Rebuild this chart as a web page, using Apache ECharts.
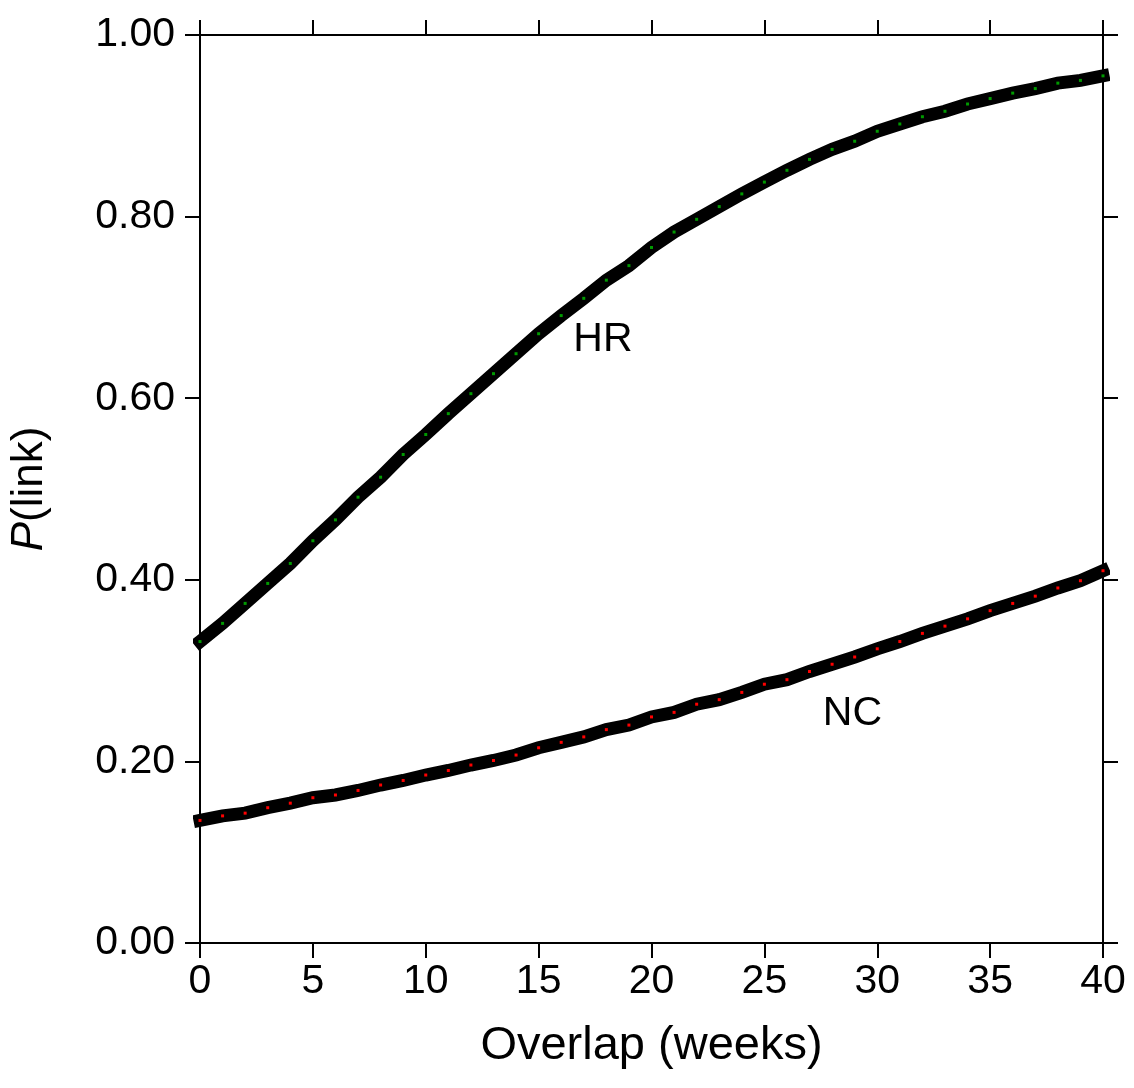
<!DOCTYPE html>
<html>
<head>
<meta charset="utf-8">
<script src="https://cdn.jsdelivr.net/npm/echarts@6/dist/echarts.min.js"></script>
<style>html,body{margin:0;padding:0;background:#fff}#c{width:1134px;height:1088px}</style>
</head>
<body>
<div id="c"></div>
<script>
const weeks = Array.from({length: 41}, (_, i) => i);
const hrValues = [0.332,0.352,0.374,0.396,0.418,0.443,0.466,0.491,0.513,0.538,0.560,0.583,0.605,0.627,0.649,0.671,0.691,0.710,0.730,0.746,0.766,0.783,0.797,0.811,0.825,0.838,0.851,0.863,0.874,0.883,0.894,0.902,0.910,0.916,0.924,0.930,0.936,0.941,0.947,0.950,0.955];
const ncValues = [0.135,0.140,0.143,0.149,0.154,0.160,0.163,0.168,0.174,0.179,0.185,0.190,0.196,0.201,0.207,0.215,0.221,0.227,0.235,0.240,0.249,0.254,0.263,0.268,0.276,0.285,0.290,0.299,0.307,0.315,0.324,0.332,0.341,0.349,0.357,0.366,0.374,0.382,0.391,0.399,0.410];
const xTicks = [0,5,10,15,20,25,30,35,40];
const yTicks = [0,0.2,0.4,0.6,0.8,1.0];
const hrLabel = {text: 'HR', x: 17.85, y: 0.664};
const ncLabel = {text: 'NC', x: 28.9, y: 0.253};

const FONT = 'Liberation Sans, Arial, Helvetica, sans-serif';
const chart = echarts.init(document.getElementById('c'), null, {renderer: 'canvas'});
const axisLine = {show: true, onZero: false, lineStyle: {color: '#000', width: 2}};
const axisTick = {show: true, inside: false, length: 15, lineStyle: {color: '#000', width: 2}};

function labelPoint(l) {
  return {
    coord: [l.x, l.y], symbol: 'circle', symbolSize: 0,
    itemStyle: {color: 'rgba(0,0,0,0)'},
    label: {show: true, position: 'inside', formatter: l.text, color: '#000', fontSize: 41, fontFamily: FONT}
  };
}

chart.setOption({
  animation: false,
  backgroundColor: '#fff',
  grid: {left: 200, right: 31, top: 35, bottom: 145, containLabel: false},
  xAxis: [{
    type: 'value', position: 'bottom', min: xTicks[0], max: xTicks[xTicks.length-1], interval: 5,
    axisLine, axisTick, splitLine: {show: false},
    axisLabel: {show: true, margin: 18, color: '#000', fontSize: 41, fontFamily: FONT},
    name: 'Overlap (weeks)', nameLocation: 'middle', nameGap: 80,
    nameTextStyle: {color: '#000', fontSize: 47, fontFamily: FONT}
  }, {
    type: 'value', position: 'top', min: 0, max: 40, interval: 5,
    axisLine, axisTick, splitLine: {show: false}, axisLabel: {show: false}
  }],
  yAxis: [{
    type: 'value', position: 'left', min: yTicks[0], max: yTicks[yTicks.length-1], interval: 0.2,
    axisLine, axisTick, splitLine: {show: false},
    axisLabel: {show: true, margin: 25, color: '#000', fontSize: 41, fontFamily: FONT, formatter: v => v.toFixed(2)},
    name: '{i|P}(link)', nameLocation: 'middle', nameGap: 148, nameRotate: 90,
    nameTextStyle: {color: '#000', fontSize: 44, fontFamily: FONT,
      rich: {i: {fontStyle: 'italic', fontSize: 44, fontFamily: FONT, color: '#000'}}}
  }, {
    type: 'value', position: 'right', min: 0, max: 1, interval: 0.2,
    axisLine, axisTick, splitLine: {show: false}, axisLabel: {show: false}
  }],
  series: [{
    name: 'HR', type: 'line', xAxisIndex: 0, yAxisIndex: 0,
    data: weeks.map((w, i) => [w, hrValues[i]]),
    showSymbol: true, symbol: 'rect', symbolSize: 3,
    itemStyle: {color: '#009a00'},
    lineStyle: {color: '#000', width: 13, cap: 'square', join: 'miter'},
    markPoint: {data: [labelPoint(hrLabel)], animation: false}
  }, {
    name: 'NC', type: 'line', xAxisIndex: 0, yAxisIndex: 0,
    data: weeks.map((w, i) => [w, ncValues[i]]),
    showSymbol: true, symbol: 'rect', symbolSize: 3,
    itemStyle: {color: '#ff0000'},
    lineStyle: {color: '#000', width: 13, cap: 'square', join: 'miter'},
    markPoint: {data: [labelPoint(ncLabel)], animation: false}
  }]
});
</script>
</body>
</html>
